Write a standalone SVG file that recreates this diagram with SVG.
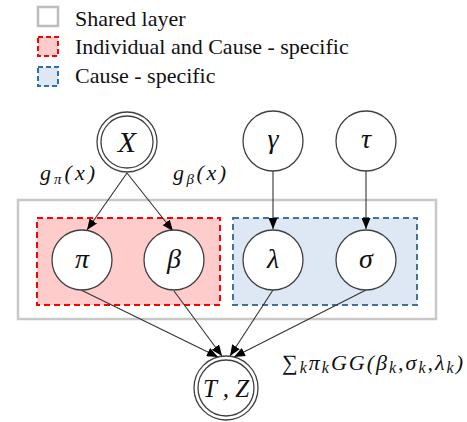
<svg xmlns="http://www.w3.org/2000/svg" width="467" height="422" viewBox="0 0 467 422">
<defs>
<style>
.leg{font-family:'Liberation Serif','Tinos','Times New Roman','DejaVu Serif',serif;font-size:22px;fill:#111}
.m{font-family:'Liberation Serif','Tinos','Times New Roman','DejaVu Serif',serif;font-style:italic;fill:#111}
.node{fill:#fff;stroke:#404040;stroke-width:1.3}
.edge{stroke:#333;stroke-width:1.1;fill:none}
</style>
<marker id="ah" markerUnits="userSpaceOnUse" markerWidth="12" markerHeight="9" viewBox="0 0 12 9" refX="11" refY="4.5" orient="auto">
<path d="M0,0 L11,4.5 L0,9 z" fill="#000"/>
</marker>
</defs>
<rect width="467" height="422" fill="#fff"/>
<g id="legend">
<rect x="38" y="7" width="20" height="19" fill="#fff" stroke="#bdbdbd" stroke-width="2.5"/>
<text class="leg" x="75" y="26">Shared layer</text>
<rect x="38" y="37" width="20" height="19" fill="#ffcccc" stroke="#ff0000" stroke-width="2" stroke-dasharray="5,3"/>
<text class="leg" x="75" y="54">Individual and Cause - specific</text>
<rect x="38" y="67" width="20" height="19" fill="#dde8f4" stroke="#2e6eaa" stroke-width="2" stroke-dasharray="5,3"/>
<text class="leg" x="75" y="83">Cause - specific</text>
</g>
<g id="shared-layer">
<rect x="18" y="200" width="418" height="119" fill="#fff" stroke="#c8c8c8" stroke-width="2.5"/>
</g>
<g id="individual-cause-group">
<rect x="37" y="218" width="183" height="87" fill="#ffcccc" stroke="#ff0000" stroke-width="2" stroke-dasharray="6,4"/>
</g>
<g id="cause-group">
<rect x="233" y="218" width="184" height="87" fill="#dde8f4" stroke="#41719c" stroke-width="2" stroke-dasharray="6,4"/>
</g>
<g id="connectors">
<line class="edge" x1="127" y1="173" x2="87" y2="230" marker-end="url(#ah)"/>
<line class="edge" x1="127" y1="173" x2="173" y2="231" marker-end="url(#ah)"/>
<line class="edge" x1="273" y1="171" x2="273" y2="229" marker-end="url(#ah)"/>
<line class="edge" x1="366" y1="171" x2="366" y2="229" marker-end="url(#ah)"/>
<line class="edge" x1="81" y1="290" x2="218" y2="357" marker-end="url(#ah)"/>
<line class="edge" x1="174" y1="291" x2="222" y2="356" marker-end="url(#ah)"/>
<line class="edge" x1="273" y1="290" x2="230" y2="356" marker-end="url(#ah)"/>
<line class="edge" x1="366" y1="290" x2="234" y2="357" marker-end="url(#ah)"/>
</g>
<g id="node-X">
<circle class="node" cx="127" cy="142" r="30"/>
<circle class="node" cx="127" cy="142" r="26"/>
<text class="m" x="127" y="152" font-size="30" text-anchor="middle">X</text>
</g>
<g id="node-gamma">
<circle class="node" cx="273" cy="141" r="30"/>
<text class="m" x="273" y="148" font-size="28" text-anchor="middle">γ</text>
</g>
<g id="node-tau">
<circle class="node" cx="366" cy="141" r="30"/>
<text class="m" x="366" y="148" font-size="28" text-anchor="middle">τ</text>
</g>
<g id="node-pi">
<circle class="node" cx="82" cy="260" r="30"/>
<text class="m" x="82" y="268" font-size="28" text-anchor="middle">π</text>
</g>
<g id="node-beta">
<circle class="node" cx="174" cy="260" r="30"/>
<text class="m" x="174" y="268" font-size="28" text-anchor="middle">β</text>
</g>
<g id="node-lambda">
<circle class="node" cx="273" cy="260" r="30"/>
<text class="m" x="273" y="268" font-size="28" text-anchor="middle">λ</text>
</g>
<g id="node-sigma">
<circle class="node" cx="366" cy="260" r="30"/>
<text class="m" x="366" y="268" font-size="28" text-anchor="middle">σ</text>
</g>
<g id="node-TZ">
<circle class="node" cx="226" cy="388" r="32"/>
<circle class="node" cx="226" cy="388" r="28"/>
<text class="m" x="226" y="397" font-size="25" text-anchor="middle">T , Z</text>
</g>
<g id="labels">
<text class="m" x="40" y="180" font-size="22" textLength="55" lengthAdjust="spacing">g<tspan font-size="15" dy="4">π</tspan><tspan dy="-4">(x)</tspan></text>
<text class="m" x="173" y="180" font-size="22" textLength="53" lengthAdjust="spacing">g<tspan font-size="15" dy="4">β</tspan><tspan dy="-4">(x)</tspan></text>
<text class="m" x="282" y="370" font-size="22" textLength="181" lengthAdjust="spacing"><tspan font-style="normal">∑</tspan><tspan font-size="16" dy="3">k</tspan><tspan dy="-3">π</tspan><tspan font-size="16" dy="3">k</tspan><tspan dy="-3">GG(β</tspan><tspan font-size="16" dy="3">k</tspan><tspan dy="-3">,σ</tspan><tspan font-size="16" dy="3">k</tspan><tspan dy="-3">,λ</tspan><tspan font-size="16" dy="3">k</tspan><tspan dy="-3">)</tspan></text>
</g>
</svg>
